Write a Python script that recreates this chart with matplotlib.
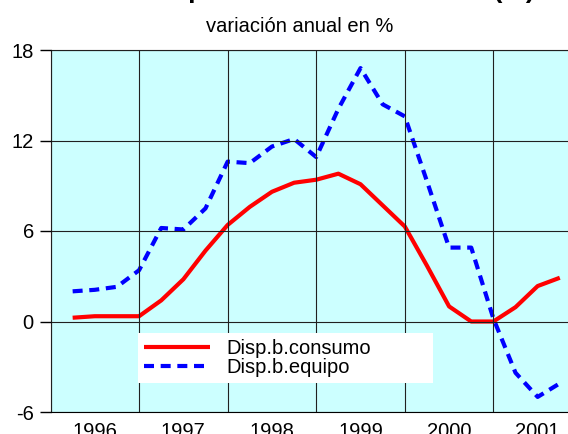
import matplotlib.pyplot as plt

years = ["1996", "1997", "1998", "1999", "2000", "2001"]
consumo = [0.25, 0.35, 0.35, 0.35,
           1.4, 2.8, 4.7, 6.4,
           7.6, 8.6, 9.2, 9.4,
           9.8, 9.1, 7.7, 6.3,
           3.7, 1.0, 0.0, 0.0,
           0.95, 2.35, 2.9]
equipo = [2.0, 2.1, 2.3, 3.4,
          6.2, 6.1, 7.5, 10.6,
          10.5, 11.6, 12.1, 10.9,
          14.1, 16.8, 14.4, 13.6,
          9.3, 4.9, 4.9, 0.2,
          -3.4, -5.0, -4.1]
y_ticks = [-6, 0, 6, 12, 18]

quarters = list(range(1, len(consumo) + 1))

plt.rcParams['font.family'] = ['Liberation Sans', 'DejaVu Sans']
fs = 14.5

fig = plt.figure(figsize=(5.68, 4.34), dpi=100)
ax = fig.add_axes([50.5 / 568, 22 / 434, 517.5 / 568, 362 / 434])
ax.set_facecolor('#ccffff')

ax.plot(quarters, consumo, color='#ff0000', lw=3, solid_capstyle='butt',
        label="Disp.b.consumo")
ax.plot(quarters, equipo, color='#0000ff', lw=3, dashes=(2.4, 1.6),
        dash_capstyle='butt', label="Disp.b.equipo")

ax.set_xlim(0, 23.37)
ax.set_ylim(-6, 18)
ax.set_yticks(y_ticks)
ax.set_yticklabels([str(v) for v in y_ticks])
ax.set_xticks([4 * i for i in range(len(years))])
ax.set_xticklabels([])
ax.set_xticks([4 * i + 2 for i in range(len(years))], minor=True)
ax.set_xticklabels(years, minor=True)
ax.tick_params(axis='x', which='both', length=0, labelsize=fs, pad=7)
ax.tick_params(axis='y', length=8, width=1, direction='out', labelsize=fs, pad=4)
ax.grid(True, which='major', color='#202020', lw=0.8)
ax.set_axisbelow(False)

ax.spines['right'].set_visible(False)
for side in ['top', 'left', 'bottom']:
    ax.spines[side].set_color('black')
    ax.spines[side].set_linewidth(0.8)

# legend box: white, no border, wider than its text
leg = ax.legend(loc='upper left', bbox_to_anchor=(0.169, 0.218 - 0.138, 0.570, 0.138),
                mode='expand', fontsize=fs,
                frameon=True, fancybox=False, framealpha=1, edgecolor='white',
                handlelength=3.3, handletextpad=0.8, labelspacing=0.0,
                borderpad=0.3, borderaxespad=0)
leg.get_frame().set_linewidth(0)

fig.text(0.6, 1 - 3 / 434, "Disponibilidades interiores (%)", ha='center', va='bottom',
         fontsize=19, fontweight='bold')
fig.text(0.528, 1 - 27 / 434, "variación anual en %", ha='center', va='center',
         fontsize=fs)

fig.savefig("out.png", dpi=100)
